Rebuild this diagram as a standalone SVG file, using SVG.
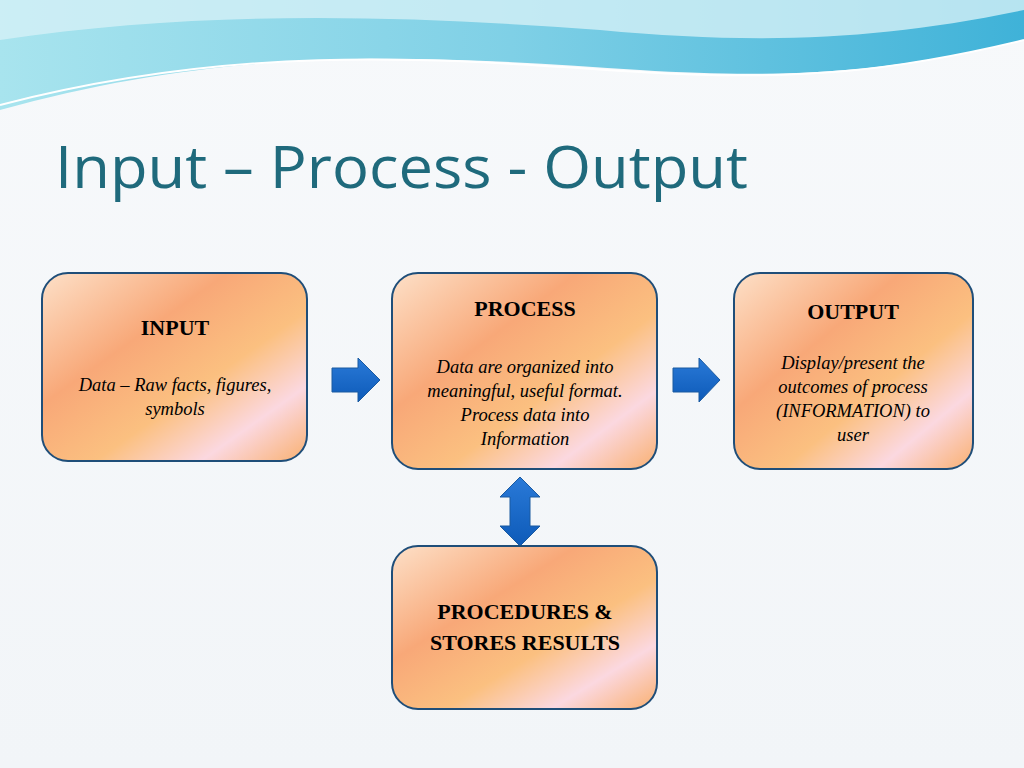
<svg xmlns="http://www.w3.org/2000/svg" width="1024" height="768" viewBox="0 0 1024 768">
<defs>
<linearGradient id="bg" x1="0" y1="0" x2="0" y2="1"><stop offset="0" stop-color="#f7f9fb"/><stop offset="1" stop-color="#f2f5f8"/></linearGradient>
<linearGradient id="box" x1="0" y1="0" x2="1" y2="1">
<stop offset="0" stop-color="#fde0c8"/><stop offset="0.35" stop-color="#f8a878"/><stop offset="0.6" stop-color="#fbc080"/><stop offset="0.8" stop-color="#fbd8e0"/><stop offset="1" stop-color="#f9b070"/></linearGradient>
<linearGradient id="wave" x1="0" y1="0" x2="1" y2="0"><stop offset="0" stop-color="#a8e4ee"/><stop offset="0.5" stop-color="#7fd0e6"/><stop offset="1" stop-color="#3fb2d8"/></linearGradient>
<linearGradient id="arr" x1="0" y1="0" x2="0" y2="1"><stop offset="0" stop-color="#2a7ad8"/><stop offset="1" stop-color="#0d5ab8"/></linearGradient>
<style>
.node{fill:url(#box);stroke:#1f4e79;stroke-width:2}
.h{font-family:"Liberation Serif",serif;font-weight:bold;font-size:22px;fill:#000;text-anchor:middle}
.b{font-family:"Liberation Serif",serif;font-style:italic;font-size:18.5px;fill:#000;text-anchor:middle}
.a{fill:url(#arr);stroke:#1a5aa0;stroke-width:1}
</style>
</defs>
<rect width="1024" height="768" fill="url(#bg)"/>
<path d="M0,0 H1024 V40 C900,70 800,80 640,70 C450,58 250,40 0,110 Z" fill="url(#wave)"/>
<path d="M0,0 H1024 V10 C880,40 760,45 600,30 C400,15 200,10 0,40 Z" fill="#d4f0f6" opacity="0.8"/>
<path d="M0,105 C250,40 450,60 640,72 C800,82 900,70 1024,40" fill="none" stroke="#ffffff" stroke-width="2"/>
<text x="55" y="188" font-family="Open Sans, sans-serif" font-size="58" fill="#1f6a7c" textLength="693" lengthAdjust="spacingAndGlyphs">Input – Process - Output</text>
<g id="connectors">
<path class="a" d="M332,368 H358 V358 L380,380 L358,402 V392 H332 Z"/>
<path class="a" d="M673,368 H699 V358 L720,380 L699,402 V392 H673 Z"/>
<path class="a" d="M520,477 L540,497 H530 V526 H540 L520,546 L500,526 H510 V497 H500 Z"/>
</g>
<g id="input"><rect class="node" x="42" y="273" width="265" height="188" rx="26"/>
<text class="h" x="175" y="335">INPUT</text>
<text class="b" x="175" y="391">Data – Raw facts, figures,</text><text class="b" x="175" y="415">symbols</text></g>
<g id="process"><rect class="node" x="392" y="273" width="265" height="196" rx="26"/>
<text class="h" x="525" y="316">PROCESS</text>
<text class="b" x="525" y="373">Data are organized into</text><text class="b" x="525" y="397">meaningful, useful format.</text><text class="b" x="525" y="421">Process data into</text><text class="b" x="525" y="445">Information</text></g>
<g id="output"><rect class="node" x="734" y="273" width="239" height="196" rx="26"/>
<text class="h" x="853" y="319">OUTPUT</text>
<text class="b" x="853" y="369">Display/present the</text><text class="b" x="853" y="393">outcomes of process</text><text class="b" x="853" y="417">(INFORMATION) to</text><text class="b" x="853" y="441">user</text></g>
<g id="procedures"><rect class="node" x="392" y="546" width="265" height="163" rx="26"/>
<text class="h" x="525" y="619">PROCEDURES &amp;</text><text class="h" x="525" y="650">STORES RESULTS</text></g>
</svg>
